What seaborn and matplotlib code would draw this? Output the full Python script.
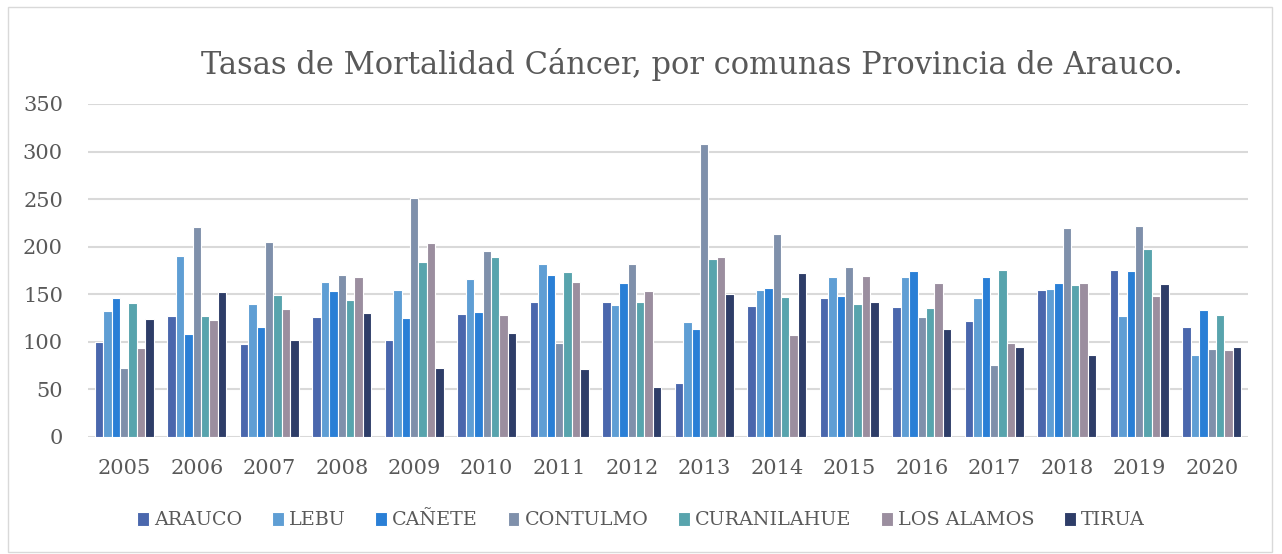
import matplotlib
matplotlib.use("Agg")
import matplotlib.pyplot as plt
import seaborn as sns
import pandas as pd
from matplotlib.patches import Rectangle

years = [str(y) for y in range(2005, 2021)]
comunas = ["ARAUCO", "LEBU", "CAÑETE", "CONTULMO", "CURANILAHUE", "LOS ALAMOS", "TIRUA"]

arauco      = [100, 127, 98, 126, 102, 129, 142, 142, 57, 138, 146, 137, 122, 155, 175, 116]
lebu        = [132, 190, 140, 163, 154, 166, 182, 139, 121, 154, 168, 168, 146, 156, 127, 86]
canete      = [146, 108, 116, 153, 125, 131, 170, 162, 113, 157, 148, 174, 168, 162, 174, 133]
contulmo    = [73, 221, 205, 170, 251, 195, 99, 182, 308, 213, 179, 126, 76, 220, 222, 93]
curanilahue = [141, 127, 149, 144, 184, 189, 173, 142, 187, 147, 140, 136, 176, 160, 198, 128]
los_alamos  = [94, 123, 135, 168, 204, 128, 163, 153, 189, 107, 169, 162, 99, 162, 148, 91]
tirua       = [124, 152, 102, 130, 73, 109, 71, 53, 150, 172, 142, 114, 95, 86, 161, 95]

colors = ["#4a67ad", "#5f9ed4", "#2a7fd6", "#7f90ab", "#58a4ad", "#9b8e9f", "#2e3d68"]

series = [arauco, lebu, canete, contulmo, curanilahue, los_alamos, tirua]
rows = []
for name, vals in zip(comunas, series):
    for y, v in zip(years, vals):
        rows.append({"year": y, "comuna": name, "tasa": v})
df = pd.DataFrame(rows)

sns.set_theme(style="white")
plt.rcParams["font.family"] = ["DejaVu Serif"]

fig = plt.figure(figsize=(12.82, 5.54), dpi=100)
ax = fig.add_axes([0.0686, 0.2112, 0.9049, 0.6011])

sns.barplot(data=df, x="year", y="tasa", hue="comuna", order=years,
            hue_order=comunas, palette=colors, saturation=1, width=0.81, ax=ax,
            edgecolor="white", linewidth=0.8, legend=True, errorbar=None)

ax.set_ylim(0, 350)
ax.set_yticks(range(0, 351, 50))
ax.set_xlim(-0.5, len(years) - 0.5)
ax.yaxis.grid(True, color="#d9d9d9", linewidth=1.5)
ax.set_axisbelow(True)
for s in ax.spines.values():
    s.set_visible(False)
ax.tick_params(axis="both", length=0, labelsize=15, colors="#595959")
ax.tick_params(axis="x", pad=16)
ax.tick_params(axis="y", pad=18)
ax.set_xlabel("")
ax.set_ylabel("")

handles, labels = ax.get_legend_handles_labels()
ax.get_legend().remove()
leg = fig.legend(handles, labels, loc="center", bbox_to_anchor=(0.5, 0.061), ncol=7,
                 frameon=False, fontsize=13.8, handlelength=0.6, handleheight=0.75,
                 handletextpad=0.28, columnspacing=1.55)
for t in leg.get_texts():
    t.set_color("#595959")

fig.text(0.540, 0.884, "Tasas de Mortalidad Cáncer, por comunas Provincia de Arauco.",
         ha="center", va="center", fontsize=22, color="#595959")

fig.patches.append(Rectangle((0.006, 0.004), 0.986, 0.984, transform=fig.transFigure,
                             fill=False, edgecolor="#d9d9d9", linewidth=1))

fig.savefig("out.png", dpi=100)
